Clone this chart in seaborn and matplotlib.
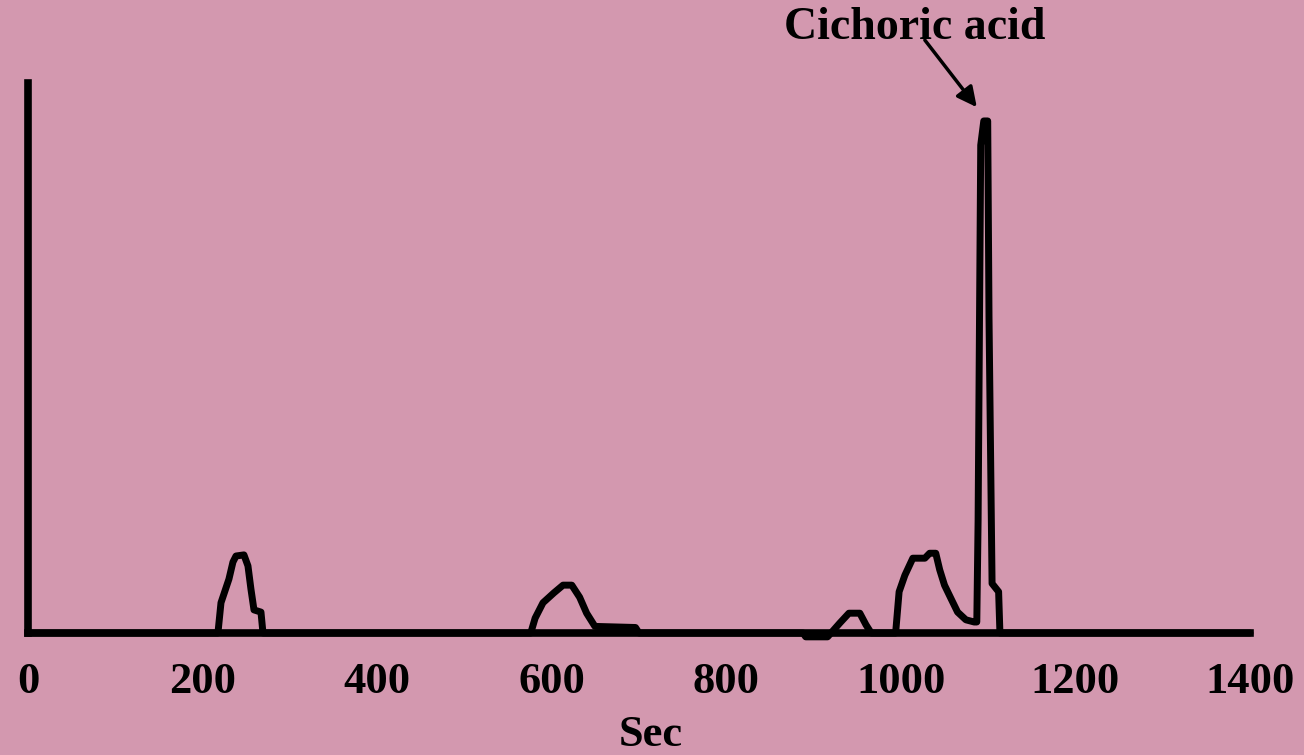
"""
HPLC chromatogram with the cichoric acid peak labelled.
"""
import numpy as np
import pandas as pd
import matplotlib
matplotlib.use('Agg')
import matplotlib.pyplot as plt
import seaborn as sns

# trace: retention time (s) and detector signal (arbitrary units, axis top = 100)
time_s = [0, 217.6, 221.1, 230.2, 234.8, 238.3, 247.4, 252.0, 255.4, 258.9, 266.9, 269.2,
          576, 581, 590, 602.5, 613, 623, 632, 640, 649.5, 696, 700,
          888, 891, 916, 920, 930, 940.5, 953, 960, 966,
          994, 998, 1004.6, 1013.7, 1027.5, 1033, 1040, 1044.5, 1050, 1057, 1065, 1074.5,
          1084, 1087, 1088.5, 1091.5, 1095, 1099.5, 1101, 1104.5, 1112, 1113.5, 1400]
signal = [0, 0, 5.5, 9.8, 12.9, 14.0, 14.2, 12.2, 8.0, 4.2, 3.8, 0,
          0, 2.7, 5.5, 7.3, 8.7, 8.7, 6.5, 3.6, 1.2, 1.0, 0,
          0, -0.7, -0.7, 0, 1.8, 3.6, 3.6, 1.5, 0,
          0, 7.5, 10.5, 13.6, 13.6, 14.5, 14.5, 11.5, 8.7, 6.4, 3.8, 2.4,
          2.0, 2.0, 20.5, 88.7, 93.1, 93.1, 57.3, 9.0, 7.5, 0, 0]

x_ticks = [0, 200, 400, 600, 800, 1000, 1200, 1400]
peak_label = "Cichoric acid"
label_xy = (1016, 110.0)
arrow_tail = (1027.5, 107.8)
arrow_tip = (1087, 95.6)

bg = '#D398AF'
sns.set_style('white', {'axes.facecolor': bg, 'figure.facecolor': bg,
                        'text.color': 'black', 'xtick.color': 'black',
                        'axes.labelcolor': 'black'})
plt.rcParams['font.family'] = ['Liberation Serif', 'DejaVu Serif']
plt.rcParams['font.weight'] = 'bold'

fig = plt.figure(figsize=(13.04, 7.55), dpi=100)
ax = fig.add_axes([28 / 1304, 122 / 755, 1222 / 1304, 550 / 755])

df = pd.DataFrame({'time': time_s, 'signal': signal})
sns.lineplot(data=df, x='time', y='signal', ax=ax, color='black', linewidth=5,
             sort=False, estimator=None, clip_on=False)

ax.set_xlim(0, 1400)
ax.set_ylim(0, 100)
sns.despine(ax=ax)
for side in ['left', 'bottom']:
    ax.spines[side].set_linewidth(5.5)
    ax.spines[side].set_color('black')

ax.set_xticks(x_ticks)
ax.set_xticklabels([str(t) for t in x_ticks], fontsize=32, fontweight='bold', color='black')
ax.set_yticks([])
ax.tick_params(axis='x', direction='out', length=5, width=2.5, color='black', pad=16)
ax.set_xlabel('')
ax.set_ylabel('')

fig.text(651 / 1304, 0.5 / 755, 'Sec', ha='center', va='bottom', fontsize=32,
         fontweight='bold', color='black')

ax.text(*label_xy, peak_label, ha='center', va='center', fontsize=33,
        fontweight='bold', color='black', clip_on=False)
ax.annotate('', xy=arrow_tip, xytext=arrow_tail, annotation_clip=False,
            arrowprops=dict(arrowstyle='-|>', color='black', lw=2.5, mutation_scale=30,
                            shrinkA=0, shrinkB=0))

plt.savefig('out.png', dpi=100, facecolor=bg)
plt.close()
